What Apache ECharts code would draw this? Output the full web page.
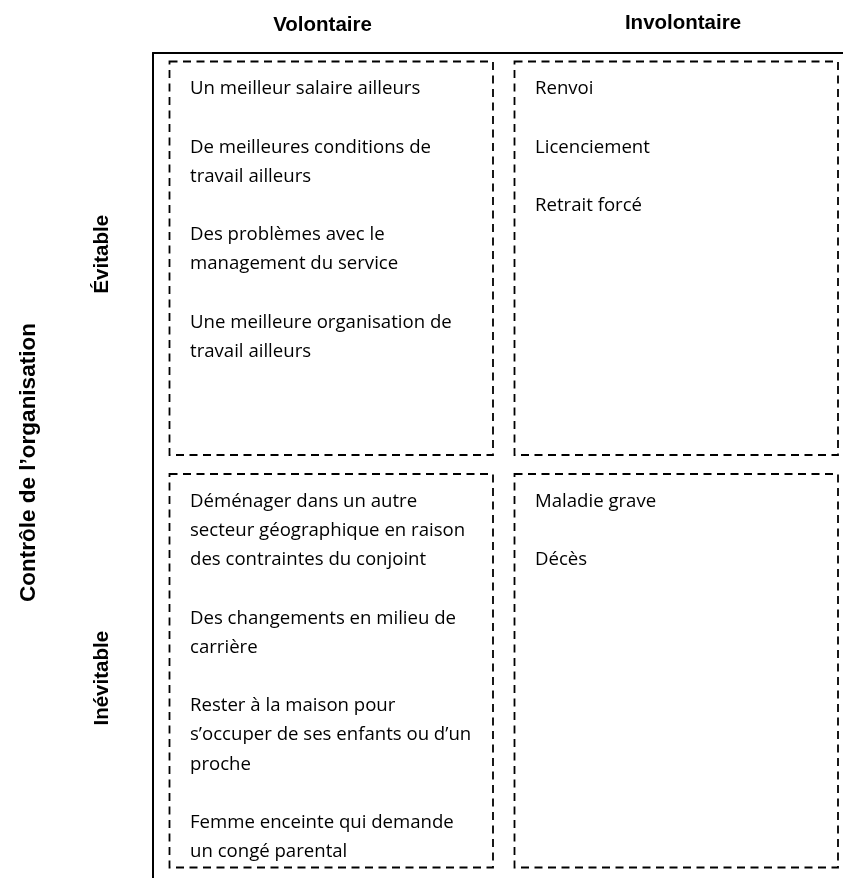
<!DOCTYPE html>
<html>
<head>
<meta charset="utf-8">
<script src="https://cdn.jsdelivr.net/npm/echarts@6/dist/echarts.min.js"></script>
<style>
html,body{margin:0;padding:0;background:#fff;}
#chart{width:843px;height:878px;}
</style>
</head>
<body>
<div id="chart"></div>
<script>
// ---- data ----
const columns = ["Volontaire", "Involontaire"];
const rows = ["Évitable", "Inévitable"];
const axisTitle = "Contrôle de l’organisation";

const cellVolontaireEvitable = [
  ["Un meilleur salaire ailleurs"],
  ["De meilleures conditions de", "travail ailleurs"],
  ["Des problèmes avec le", "management du service"],
  ["Une meilleure organisation de", "travail ailleurs"]
];
const cellInvolontaireEvitable = [
  ["Renvoi"],
  ["Licenciement"],
  ["Retrait forcé"]
];
const cellVolontaireInevitable = [
  ["Déménager dans un autre", "secteur géographique en raison", "des contraintes du conjoint"],
  ["Des changements en milieu de", "carrière"],
  ["Rester à la maison pour", "s’occuper de ses enfants ou d’un", "proche"],
  ["Femme enceinte qui demande", "un congé parental"]
];
const cellInvolontaireInevitable = [
  ["Maladie grave"],
  ["Décès"]
];

// [columnIndex, rowIndex, paragraphs]
const cells = [
  [0, 0, cellVolontaireEvitable],
  [1, 0, cellInvolontaireEvitable],
  [0, 1, cellVolontaireInevitable],
  [1, 1, cellInvolontaireInevitable]
];

// ---- styles ----
const BODY_FONT = '18.6px "Open Sans", Lato, sans-serif';
const LINE_H = 29.2;
const INSET = { left: 16.5, right: 5, top: 8.5, bottom: 10.5 };
const TEXT_PAD_X = 20.5;
const FIRST_LINE_CENTER = 27.5;

const chart = echarts.init(document.getElementById('chart'), null, { renderer: 'canvas' });
const boldFont = 'Liberation Sans, Arial, sans-serif';

chart.setOption({
  animation: false,
  backgroundColor: '#ffffff',
  grid: { left: 153, top: 53, right: 0, bottom: 0, containLabel: false },
  xAxis: {
    type: 'category',
    position: 'top',
    data: columns,
    boundaryGap: true,
    axisLine: { show: true, lineStyle: { color: '#000', width: 2 } },
    axisTick: { show: false },
    splitLine: { show: false },
    axisLabel: {
      margin: 17,
      color: '#000',
      formatter: function (v, i) { return i === 0 ? '{a|' + v + '}' : '{b|' + v + '}'; },
      rich: {
        a: { fontFamily: boldFont, fontWeight: 'bold', fontSize: 20.5, color: '#000', padding: [0, 6, 0, 0] },
        b: { fontFamily: boldFont, fontWeight: 'bold', fontSize: 20.5, color: '#000', padding: [0, 0, 2.5, 25] }
      }
    }
  },
  yAxis: {
    type: 'category',
    data: rows,
    inverse: true,
    boundaryGap: true,
    axisLine: { show: true, lineStyle: { color: '#000', width: 2 } },
    axisTick: { show: false },
    splitLine: { show: false },
    name: axisTitle,
    nameLocation: 'middle',
    nameRotate: 90,
    nameGap: 113,
    nameTextStyle: { fontFamily: boldFont, fontWeight: 'bold', fontSize: 22.5, color: '#000', padding: [0, 0, 0, 6] },
    axisLabel: {
      rotate: 90,
      margin: 40,
      color: '#000',
      formatter: function (v, i) { return i === 0 ? '{a|' + v + '}' : '{b|' + v + '}'; },
      rich: {
        a: { fontFamily: boldFont, fontWeight: 'bold', fontSize: 20.5, color: '#000', padding: [0, 0, 0, 10] },
        b: { fontFamily: boldFont, fontWeight: 'bold', fontSize: 20.5, color: '#000', padding: [0, 13, 0, 0] }
      }
    }
  },
  series: [{
    type: 'custom',
    coordinateSystem: 'cartesian2d',
    encode: { x: 0, y: 1 },
    data: cells.map(c => [c[0], c[1]]),
    renderItem: function (params, api) {
      const center = api.coord([api.value(0), api.value(1)]);
      const size = api.size([1, 1]);
      const x0 = center[0] - size[0] / 2 + INSET.left;
      const y0 = center[1] - size[1] / 2 + INSET.top;
      const w = size[0] - INSET.left - INSET.right;
      const h = size[1] - INSET.top - INSET.bottom;
      const paras = cells[params.dataIndex][2];
      const text = paras.map(p => p.join('\n')).join('\n\n');
      return {
        type: 'group',
        children: [
          {
            type: 'rect',
            shape: { x: x0, y: y0, width: w, height: h },
            style: { fill: 'none', stroke: '#000', lineWidth: 1.8, lineDash: [8, 5.5] }
          },
          {
            type: 'text',
            style: {
              text: text,
              x: x0 + TEXT_PAD_X,
              y: y0 + FIRST_LINE_CENTER - LINE_H / 2,
              font: BODY_FONT,
              lineHeight: LINE_H,
              fill: '#000',
              align: 'left',
              verticalAlign: 'top'
            }
          }
        ]
      };
    }
  }]
});
</script>
</body>
</html>
